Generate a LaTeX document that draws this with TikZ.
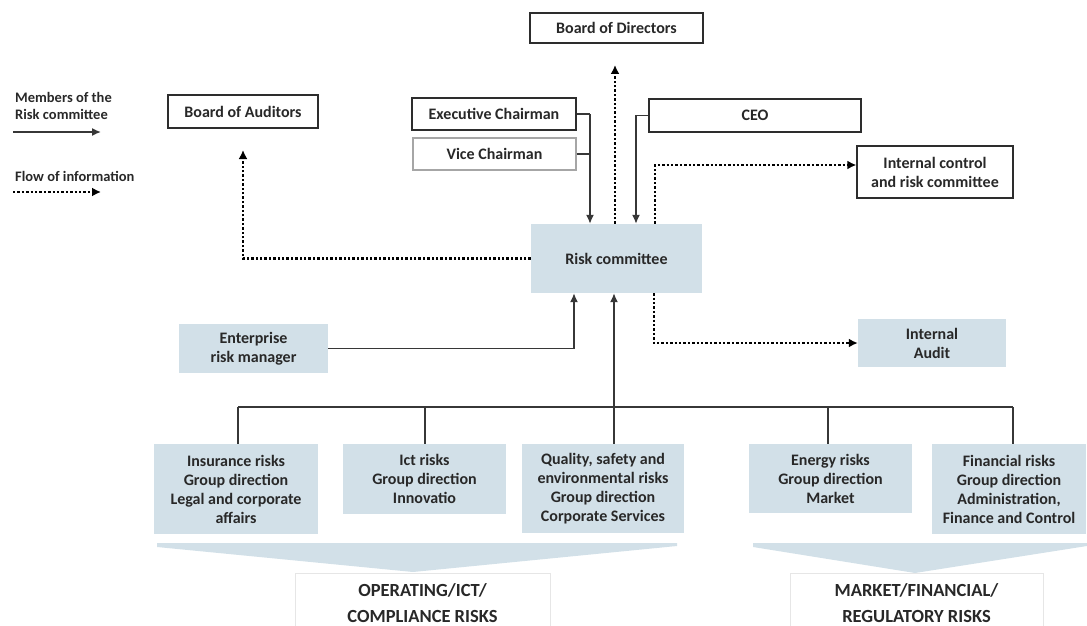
\documentclass[tikz,border=0pt]{standalone}
\usepackage{fontspec}
\setmainfont{Carlito}
\usetikzlibrary{arrows.meta}
\definecolor{lb}{RGB}{210,224,232}
\definecolor{txt}{RGB}{40,40,40}
\definecolor{bdr}{RGB}{45,45,45}
\definecolor{ln}{RGB}{55,55,55}
\definecolor{lg}{RGB}{230,230,230}
\newcommand\bxf{\fontsize{16}{19}\selectfont\bfseries}
\newcommand\lgf{\fontsize{14.5}{17}\selectfont\bfseries}
\newcommand\ctf{\fontsize{18.5}{26}\selectfont\bfseries}
\tikzset{
  wbox/.style={draw=bdr, line width=1.3pt, fill=white, inner sep=0pt, align=center, font=\bxf, text=txt},
  gbox/.style={wbox, draw=gray!70},
  bbox/.style={fill=lb, inner sep=0pt, align=center, font=\bxf, text=txt},
  cbox/.style={draw=lg, line width=0.8pt, fill=white, inner sep=0pt, align=center, font=\ctf, text=txt},
  mem/.style={draw=ln, line width=1.5pt, -{Latex[length=9pt,width=8pt]}},
  plainln/.style={draw=ln, line width=1.5pt},
  info/.style={draw=black, line width=2.6pt, dash pattern=on 2.4pt off 2pt, -{Latex[length=9pt,width=9pt]}},
}
\begin{document}
\begin{tikzpicture}[x=1pt,y=-1pt]
\useasboundingbox (0,0) rectangle (1087,626);
% chevrons
\fill[lb] (157,543) -- (677,543) -- (677,546) -- (413,572) -- (157,547) -- cycle;
\fill[lb] (753,543) -- (1087,543) -- (1087,546) -- (915,573) -- (753,547) -- cycle;
% category labels
\node[cbox, minimum width=255pt, minimum height=60pt] (lab1) at (422.5,603) {OPERATING/ICT/\\COMPLIANCE RISKS};
\node[cbox, minimum width=253pt, minimum height=60pt] (lab2) at (916.5,603) {MARKET/FINANCIAL/\\REGULATORY RISKS};
% legend
\node[font=\lgf, text=txt, align=left, anchor=west, inner sep=0pt] (lg1) at (15,106) {Members of the\\Risk committee};
\coordinate (l1a) at (13,132); \coordinate (l1b) at (101,132);
\draw[mem] (l1a) -- (l1b);
\node[font=\lgf, text=txt, anchor=west, inner sep=0pt] (lg2) at (15,176) {Flow of information};
\coordinate (l2a) at (13,192); \coordinate (l2b) at (101,192);
\draw[info] (l2a) -- (l2b);
% white boxes
\node[wbox, minimum width=173pt, minimum height=30pt] (bod) at (616.5,28) {Board of Directors};
\node[wbox, minimum width=150pt, minimum height=33pt] (boa) at (243,111.5) {Board of Auditors};
\node[wbox, minimum width=164pt, minimum height=32pt] (exec) at (494,114) {Executive Chairman};
\node[gbox, minimum width=163pt, minimum height=32pt] (vice) at (494.5,154) {Vice Chairman};
\node[wbox, minimum width=212pt, minimum height=33pt] (ceo) at (755,115.5) {CEO};
\node[wbox, minimum width=156pt, minimum height=52pt] (icr) at (935,172) {Internal control\\and risk committee};
% blue boxes
\node[bbox, minimum width=171pt, minimum height=69pt] (rc) at (616.5,258.5) {Risk committee};
\node[bbox, minimum width=148pt, minimum height=48pt] (ia) at (932,343) {Internal\\Audit};
\node[bbox, minimum width=149pt, minimum height=49pt] (erm) at (253.5,348.5) {Enterprise\\risk manager};
\node[bbox, minimum width=164pt, minimum height=90pt] (ins) at (236,489) {Insurance risks\\Group direction\\Legal and corporate\\affairs};
\node[bbox, minimum width=163pt, minimum height=70pt] (ict) at (424.5,479) {Ict risks\\Group direction\\Innovatio};
\node[bbox, minimum width=162pt, minimum height=89pt] (qual) at (603,488.5) {Quality, safety and\\environmental risks\\Group direction\\Corporate Services};
\node[bbox, minimum width=163pt, minimum height=69pt] (en) at (830.5,478.5) {Energy risks\\Group direction\\Market};
\node[bbox, minimum width=154pt, minimum height=90pt] (fin) at (1009,489) {Financial risks\\Group direction\\Administration,\\Finance and Control};
% members connectors
\coordinate (ej) at (590,114);
\draw[plainln] (exec.east) -- (ej);
\draw[plainln] (vice.east) -- (vice.east -| ej);
\draw[mem] (ej) -- (ej |- rc.north);
\coordinate (cj) at (636,115.5);
\draw[mem] (ceo.west) -- (cj) -- (cj |- rc.north);
\coordinate (mj) at (574,348.5);
\draw[mem] (erm.east) -- (mj) -- (mj |- rc.south);
% bus
\coordinate (bus) at (614,407);
\coordinate (busl) at (238,407);
\coordinate (busr) at (1013,407);
\draw[plainln] (busl) -- (busr);
\draw[mem] (bus) -- (bus |- rc.south);
\foreach \n/\x in {ins/238, ict/425, qual/614, en/828, fin/1013}
  \draw[plainln] (\x,407) -- (\x,0 |- \n.north);
% information flows
\coordinate (bj) at (615,65);
\draw[info] (bj |- rc.north) -- (bj);
\coordinate (ij) at (655,165);
\draw[info] (ij |- rc.north) -- (ij) -- (ij -| icr.west);
\coordinate (aj) at (654,343);
\draw[info] (aj |- rc.south) -- (aj) -- (ia.west);
\coordinate (otip) at (243,150);
\draw[info] (rc.west) -| (otip);
\end{tikzpicture}
\end{document}
